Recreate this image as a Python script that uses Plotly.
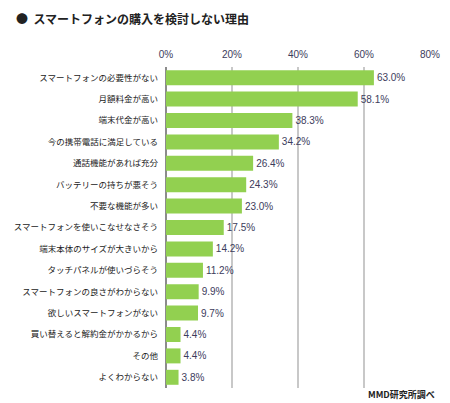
import plotly.graph_objects as go

reasons = ["スマートフォンの必要性がない", "月額料金が高い", "端末代金が高い",
           "今の携帯電話に満足している", "通話機能があれば充分", "バッテリーの持ちが悪そう",
           "不要な機能が多い", "スマートフォンを使いこなせなさそう", "端末本体のサイズが大きいから",
           "タッチパネルが使いづらそう", "スマートフォンの良さがわからない", "欲しいスマートフォンがない",
           "買い替えると解約金がかかるから", "その他", "よくわからない"]
share = [63.0, 58.1, 38.3, 34.2, 26.4, 24.3, 23.0, 17.5, 14.2, 11.2, 9.9, 9.7, 4.4, 4.4, 3.8]
tick_vals = [0, 20, 40, 60, 80]
tick_text = ["0%", "20%", "40%", "60%", "80%"]

jp = "Noto Sans CJK JP"

fig = go.Figure()
fig.add_trace(go.Bar(x=share, y=reasons, orientation="h",
                     marker=dict(color="#92d050", line=dict(width=0)),
                     text=["%.1f%%" % v for v in share], textposition="outside",
                     textfont=dict(family="Liberation Sans", size=10, color="#3c3c5c"),
                     cliponaxis=False, hoverinfo="skip"))

fig.update_layout(width=450, height=403, margin=dict(l=166, r=20, t=67, b=15),
                  paper_bgcolor="white", plot_bgcolor="white", bargap=0.3,
                  showlegend=False, font=dict(family=jp, color="#222"))
fig.update_xaxes(range=[0, 80], side="top", tickvals=tick_vals, ticktext=tick_text,
                 showgrid=True, gridcolor="#c8c8c8", gridwidth=2,
                 zeroline=True, zerolinecolor="#8c8c8c", zerolinewidth=2,
                 tickfont=dict(family="Liberation Sans", size=10, color="#3c3c5c"),
                 ticks="", ticklabelstandoff=6, automargin=False, fixedrange=True)
fig.update_yaxes(autorange="reversed", showgrid=False, ticks="",
                 tickfont=dict(family=jp, size=8.5, color="#222"),
                 ticklabelstandoff=7, automargin=False, fixedrange=True)

# title with bullet
fig.add_annotation(text="●  スマートフォンの購入を検討しない理由", xref="paper", yref="paper",
                   x=-152/264, y=1 + 49/321, xanchor="left", yanchor="middle",
                   showarrow=False, font=dict(family=jp, size=12, color="#222", weight="bold"))
fig.add_annotation(text="<b>MMD研究所調べ</b>", xref="paper", yref="paper",
                   x=1 + 7/264, y=-7/321, xanchor="right", yanchor="middle",
                   showarrow=False, font=dict(family=jp, size=9, color="#222"))

fig.write_html("out.html", config={"displayModeBar": False},
               post_script="document.body.style.margin='0';")
